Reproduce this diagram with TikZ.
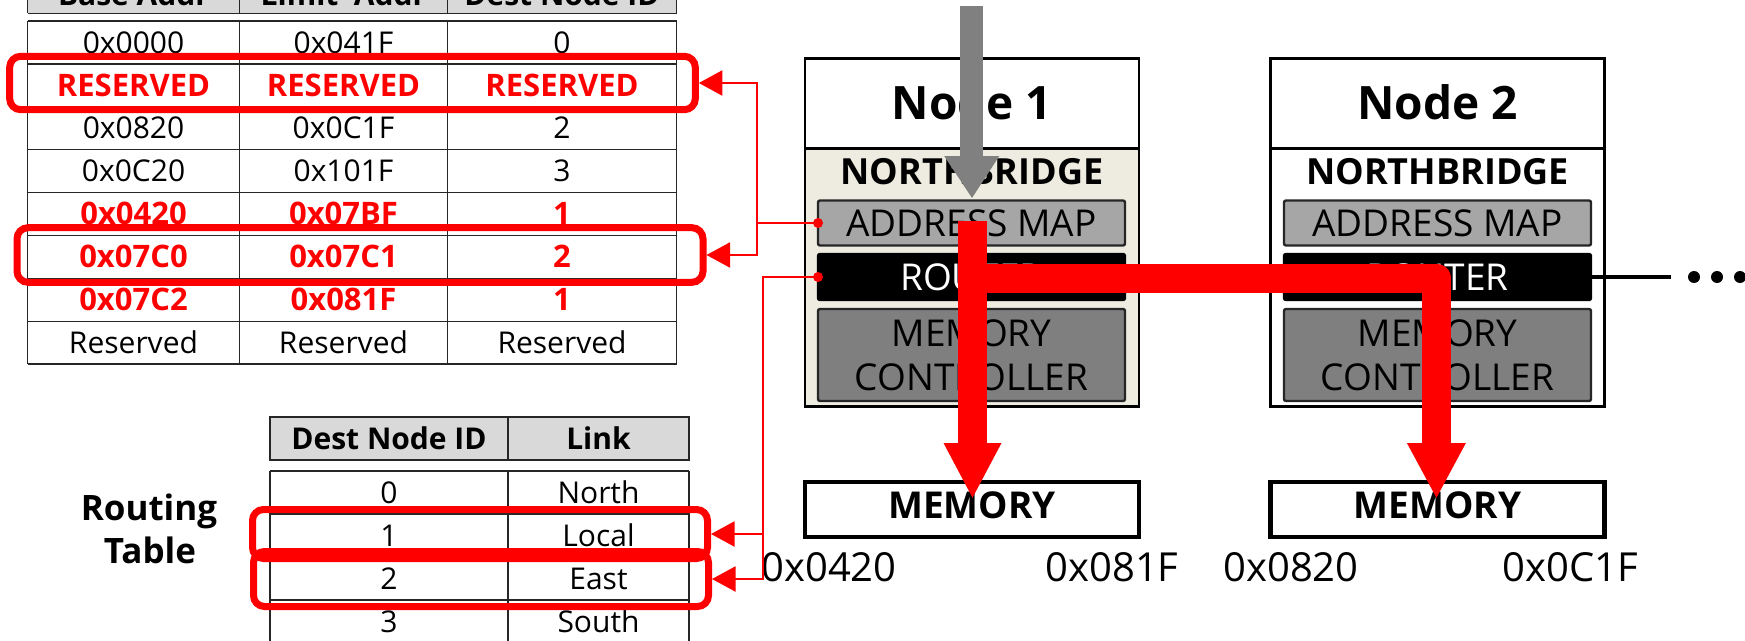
\documentclass[tikz,border=0pt]{standalone}
\usepackage{fontspec}
\setmainfont{Open Sans}
\usetikzlibrary{arrows.meta,calc}
\definecolor{hdrgray}{HTML}{D9D9D9}
\definecolor{nbbeige}{HTML}{EEECE1}
\definecolor{amgray}{HTML}{A6A6A6}
\definecolor{mcgray}{HTML}{7F7F7F}
\definecolor{linegray}{HTML}{262626}
\definecolor{hotred}{HTML}{FF0000}
\definecolor{arrowgray}{HTML}{808080}

\tikzset{
  % table cells: text box = cap height, so the node centre is the cap centre
  cell/.style={inner sep=0pt, text height=21.4pt, text depth=0pt, font=\fontsize{30}{36}\selectfont},
  cellb/.style={cell, font=\fontsize{30}{36}\selectfont\bfseries},
  cellred/.style={cellb, font=\fontsize{31}{37}\selectfont\bfseries, text=hotred},
  tline/.style={draw=linegray, line width=1.5pt},
  rtlabel/.style={inner sep=0pt, text height=25pt, text depth=0pt, font=\fontsize{35}{42}\selectfont\bfseries},
  % node blocks
  nodebox/.style={draw=black, line width=2.7pt, minimum width=334pt, inner sep=0pt, outer sep=0pt},
  titletxt/.style={inner sep=0pt, text height=32.8pt, text depth=0pt, font=\fontsize{46}{54}\selectfont\bfseries},
  nbtxt/.style={inner sep=0pt, text height=25.7pt, text depth=0pt, font=\fontsize{36}{43}\selectfont\bfseries},
  boxtxt/.style={inner sep=0pt, text height=26.4pt, text depth=0pt, font=\fontsize{37}{44}\selectfont},
  ambox/.style={boxtxt, draw=linegray, line width=2.4pt, rounded corners=2pt, fill=amgray,
                minimum width=307pt, minimum height=45pt, outer sep=0pt},
  rtbox/.style={ambox, fill=black, draw=black, text=white, minimum height=46pt},
  mcbox/.style={ambox, fill=mcgray, minimum height=92pt},
  membox/.style={draw=black, line width=4.5pt, fill=white, minimum width=334pt, minimum height=55pt,
                 inner sep=0pt, text height=26.4pt, text depth=9pt, font=\fontsize{37}{44}\selectfont\bfseries},
  addrlbl/.style={inner sep=0pt, text height=28.6pt, text depth=0pt, font=\fontsize{40}{48}\selectfont},
  % red highlights and thin red connectors
  hlbox/.style={draw=hotred, line width=7pt, rounded corners=11pt, inner sep=0pt},
  conn/.style={draw=hotred, line width=2pt, -{Triangle[length=23.5pt,width=25pt]}},
  bigred/.style={draw=hotred, line width=29pt, line join=round},
}

\begin{document}
\begin{tikzpicture}[x=1pt,y=-1pt]
\useasboundingbox (0,0) rectangle (1745,640);

% ---------------- address map table ----------------
\fill[hdrgray] (27.5,-40) rectangle (676.5,13.3);
\draw[tline] (27.5,13.3) -- (676.5,13.3);
\foreach \x in {27.5,239.5,447.5,676.5} \draw[tline] (\x,-40) -- (\x,13.3);
\node[cellb] (h1) at (133.5,-5) {Base Addr};
\node[cellb] (h2) at (343.5,-5) {Limit\ \ Addr};
\node[cellb] (h3) at (562,-5) {Dest Node ID};

\foreach \y in {21,63.9,106.8,149.7,192.6,235.5,278.4,321.3,364.2}
  \draw[tline] (27.5,\y) -- (676.5,\y);
\foreach \x in {27.5,239.5,447.5,676.5} \draw[tline] (\x,21) -- (\x,364.2);

\node[cell] (a11) at (133.5,42.45) {0x0000};
\node[cell] (a12) at (343.5,42.45) {0x041F};
\node[cell] (a13) at (562,42.45) {0};
\node[cellred] (a21) at (133.5,85.35) {RESERVED};
\node[cellred] (a22) at (343.5,85.35) {RESERVED};
\node[cellred] (a23) at (562,85.35) {RESERVED};
\node[cell] (a31) at (133.5,128.25) {0x0820};
\node[cell] (a32) at (343.5,128.25) {0x0C1F};
\node[cell] (a33) at (562,128.25) {2};
\node[cell] (a41) at (133.5,171.15) {0x0C20};
\node[cell] (a42) at (343.5,171.15) {0x101F};
\node[cell] (a43) at (562,171.15) {3};
\node[cellred] (a51) at (133.5,214.05) {0x0420};
\node[cellred] (a52) at (343.5,214.05) {0x07BF};
\node[cellred] (a53) at (562,214.05) {1};
\node[cellred] (a61) at (133.5,256.95) {0x07C0};
\node[cellred] (a62) at (343.5,256.95) {0x07C1};
\node[cellred] (a63) at (562,256.95) {2};
\node[cellred] (a71) at (133.5,299.85) {0x07C2};
\node[cellred] (a72) at (343.5,299.85) {0x081F};
\node[cellred] (a73) at (562,299.85) {1};
\node[cell] (a81) at (133.5,342.75) {Reserved};
\node[cell] (a82) at (343.5,342.75) {Reserved};
\node[cell] (a83) at (562,342.75) {Reserved};

% ---------------- routing table ----------------
\fill[hdrgray] (270,417) rectangle (689,460);
\draw[tline] (270,417) rectangle (689,460);
\draw[tline] (508,417) -- (508,460);
\node[cellb] (rh1) at (389,438.5) {Dest Node ID};
\node[cellb] (rh2) at (598.5,438.5) {Link};

\foreach \y in {471,514,557,600,643} \draw[tline] (270,\y) -- (689,\y);
\foreach \x in {270,508,689} \draw[tline] (\x,471) -- (\x,660);
\node[cell] (r11) at (389,492.5) {0};
\node[cell] (r12) at (598.5,492.5) {North};
\node[cell] (r21) at (389,535.5) {1};
\node[cell] (r22) at (598.5,535.5) {Local};
\node[cell] (r31) at (389,578.5) {2};
\node[cell] (r32) at (598.5,578.5) {East};
\node[cell] (r41) at (389,621.5) {3};
\node[cell] (r42) at (598.5,621.5) {South};

\node[rtlabel] (rtl1) at (149,507.5) {Routing};
\node[rtlabel] (rtl2) at (150,550.5) {Table};

% ---------------- Node 1 ----------------
\node[nodebox, fill=white, minimum height=89.6pt, titletxt] (t1) at (972,103.5) {Node 1};
\node[nodebox, fill=nbbeige, minimum height=258.3pt] (nb1) at (972,277.45) {};
\node[nbtxt] (nbl1) at (972,172) {NORTHBRIDGE};
\node[ambox] (am1) at (971.5,223) {ADDRESS MAP};
\node[rtbox] (rt1) at (971.5,277) {ROUTER};
\node[mcbox] (mc1) at (971.5,355) {};
\node[boxtxt] (mc1a) at (971.5,333) {MEMORY};
\node[boxtxt] (mc1b) at (971.5,377) {CONTROLLER};
\node[membox] (mem1) at (972,509.5) {MEMORY};
\node[addrlbl] (lo1) at (829,567) {0x0420};
\node[addrlbl] (hi1) at (1112,567) {0x081F};

% ---------------- Node 2 ----------------
\node[nodebox, fill=white, minimum height=89.6pt, titletxt] (t2) at (1437.5,103.5) {Node 2};
\node[nodebox, fill=white, minimum height=258.3pt] (nb2) at (1437.5,277.45) {};
\node[nbtxt] (nbl2) at (1437.5,172) {NORTHBRIDGE};
\node[ambox] (am2) at (1437.5,223) {ADDRESS MAP};
\node[rtbox] (rt2) at (1437.5,277) {ROUTER};
\node[mcbox] (mc2) at (1437.5,355) {};
\node[boxtxt] (mc2a) at (1437.5,333) {MEMORY};
\node[boxtxt] (mc2b) at (1437.5,377) {CONTROLLER};
\node[membox] (mem2) at (1437.5,509.5) {MEMORY};
\node[addrlbl] (lo2) at (1291,567) {0x0820};
\node[addrlbl] (hi2) at (1570.5,567) {0x0C1F};

% link to the next node
\coordinate (linkend) at (1671,277);
\draw[line width=4pt] (rt2.east) -- (linkend);
\foreach \x in {1694,1717,1740} \fill (\x,277) circle[radius=6pt];

% ---------------- red highlights ----------------
\node[hlbox, minimum width=685.6pt, minimum height=53.4pt] (hl1) at (352.5,83) {};
\node[hlbox, minimum width=686pt, minimum height=54.6pt] (hl2) at (360,255) {};
\node[hlbox, minimum width=455pt, minimum height=49pt] (hl3) at (480,534) {};
\node[hlbox, minimum width=455pt, minimum height=55pt] (hl4) at (481,579) {};

% ---------------- lookup connectors ----------------
\coordinate (jA) at (757,223);
\coordinate (jB) at (763.3,277);
\draw[conn] (am1.west) -- (jA) |- (hl1.east);
\draw[conn] (jA) |- (hl2.east);
\draw[conn] (rt1.west) -- (jB) |- (hl3.east);
\draw[conn] (jB) |- (hl4.east);
\fill[hotred] (am1.west) circle[radius=5pt];
\fill[hotred] (rt1.west) circle[radius=5pt];

% ---------------- incoming request (grey) ----------------
\coordinate (gin) at (971.5,6);
\coordinate (gbase) at (971.5,156);
\coordinate (gtip) at (972,198);
\draw[arrowgray, line width=23pt] (gin) -- ($(gbase)+(0,1)$);
\fill[arrowgray] ($(gbase)+(-27.3,0)$) -- ($(gbase)+(27.8,0)$) -- (gtip) -- cycle;

% ---------------- routed accesses (red) ----------------
\coordinate (hb1) at (972.5,443);
\coordinate (tip1) at ($(mem1.north)+(0.5,18)$);
\draw[bigred] ($(am1.center)+(1,-2)$) -- ($(hb1)+(0,1)$);
\fill[hotred] ($(hb1)+(-29,0)$) -- ($(hb1)+(29,0)$) -- (tip1) -- cycle;

\coordinate (hb2) at (1436.4,443);
\coordinate (tip2) at ($(mem2.north)+(-1.1,18)$);
\draw[bigred] ($(rt1.center)+(1,1)$) -| ($(hb2)+(0,1)$);
\fill[hotred] ($(hb2)+(-29.5,0)$) -- ($(hb2)+(29.5,0)$) -- (tip2) -- cycle;
\end{tikzpicture}
\end{document}
